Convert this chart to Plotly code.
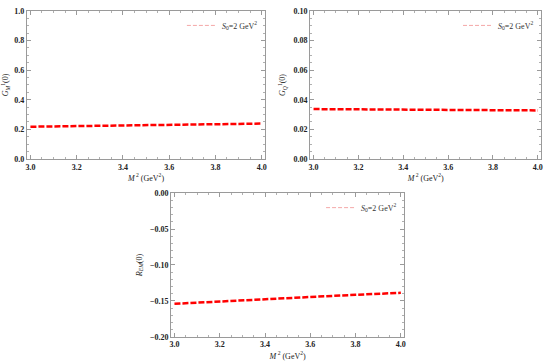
import plotly.graph_objects as go

m2 = [3.0, 3.2, 3.4, 3.6, 3.8, 4.0]
g_m = [0.218, 0.222, 0.226, 0.230, 0.234, 0.239]
g_q = [0.0337, 0.0335, 0.0333, 0.0331, 0.0330, 0.0328]
r_em = [-0.154, -0.1505, -0.1475, -0.1445, -0.1415, -0.1387]

x_ticks = [3.0, 3.2, 3.4, 3.6, 3.8, 4.0]
legend_name = "<i>S</i><sub>0</sub>=2 GeV<sup>2</sup>"

FONT = "Liberation Serif"
fig = go.Figure()

panels = [
    ("x", "y", g_m, [0, 1.0], 0.2, "<i>G</i><sub><i>M</i></sub><sup>1</sup>(0)", "legend", "{:.1f}"),
    ("x2", "y2", g_q, [0, 0.10], 0.02, "<i>G</i><sub><i>Q</i></sub><sup>1</sup>(0)", "legend2", "{:.2f}"),
    ("x3", "y3", r_em, [-0.20, 0.0], 0.05, "<i>R</i><sub><i>EM</i></sub>(0)", "legend3", "{:.2f}"),
]

for xa, ya, vals, rng, dt, title, leg, fmt in panels:
    fig.add_trace(go.Scatter(x=m2, y=vals, xaxis=xa, yaxis=ya, mode="lines",
                             line=dict(color="#ff0000", width=2.5, dash="6px,2px"),
                             showlegend=False, hoverinfo="skip"))
    fig.add_trace(go.Scatter(x=[None], y=[None], xaxis=xa, yaxis=ya, mode="lines",
                             line=dict(color="#f4a8a8", width=1, dash="4px,2px"),
                             name=legend_name, legend=leg, showlegend=True))

domains = {
    "x": ([0.049, 0.482], [0.562, 0.970]),
    "x2": ([0.564, 0.984], [0.562, 0.970]),
    "x3": ([0.311, 0.735], [0.072, 0.468]),
}

axis_common = dict(showline=True, linecolor="#9a9a9a", linewidth=1, mirror="allticks",
                   ticks="inside", ticklen=4, tickcolor="#9a9a9a", showgrid=False,
                   zeroline=False, automargin=False,
                   tickfont=dict(family=FONT, size=8, color="#222", weight="bold"),
                   minor=dict(ticks="inside", ticklen=2, tickcolor="#b0b0b0", nticks=5))

layout = dict(width=550, height=363, margin=dict(l=0, r=0, t=0, b=0, autoexpand=False),
              plot_bgcolor="white", paper_bgcolor="white",
              font=dict(family=FONT, size=8, color="#222"))

for i, (xa, ya, vals, rng, dt, title, leg, fmt) in enumerate(panels):
    xd, yd = domains[xa]
    xk = "xaxis" if i == 0 else f"xaxis{i+1}"
    yk = "yaxis" if i == 0 else f"yaxis{i+1}"
    layout[xk] = dict(axis_common, domain=xd, anchor=ya, range=[2.985, 4.015],
                      tickvals=x_ticks, ticktext=[f"{v:.1f}" for v in x_ticks],
                      title=dict(text="<i>M</i><sup> 2</sup> (GeV<sup>2</sup>)",
                                 font=dict(family=FONT, size=8), standoff=4))
    n = int(round((rng[1] - rng[0]) / dt))
    yt = [rng[0] + k * dt for k in range(n + 1)]
    layout[yk] = dict(axis_common, domain=yd, anchor=xa, range=rng,
                      tickvals=yt, ticktext=[fmt.format(v).replace("-", "\u2212") for v in yt],
                      title=dict(text=title, font=dict(family=FONT, size=8), standoff=6))
    ly = yd[1] - 0.04
    layout[leg] = dict(x=xd[1] - 0.004, xanchor="right", y=ly, yanchor="middle",
                       bgcolor="rgba(0,0,0,0)", font=dict(family=FONT, size=8, color="#333"),
                       itemwidth=30, tracegroupgap=0)

fig.update_layout(**layout)
fig.write_html("out.html", config={"displayModeBar": False},
               post_script="document.body.style.margin='0';document.body.style.padding='0';"
                           "document.body.style.overflow='hidden';")
